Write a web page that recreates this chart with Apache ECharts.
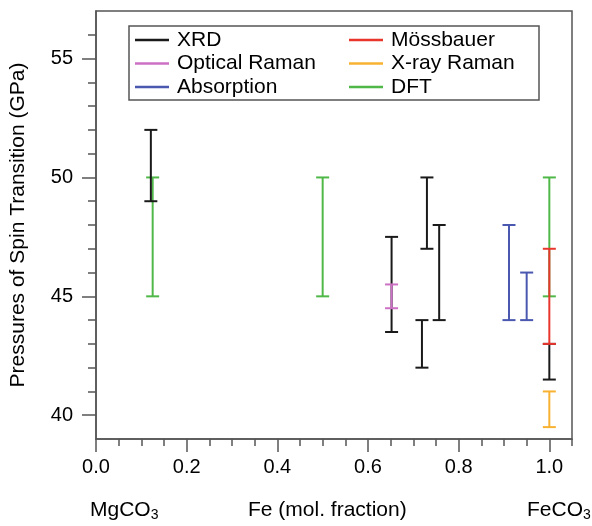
<!DOCTYPE html>
<html>
<head>
<meta charset="utf-8">
<style>
  html, body { margin: 0; padding: 0; background: #fff; }
  #chart { width: 592px; height: 526px; }
</style>
<script src="https://cdn.jsdelivr.net/npm/echarts@6/dist/echarts.min.js"></script>
</head>
<body>
<div id="chart"></div>
<script>
// each point: [Fe fraction, low pressure, high pressure]
const xrd = [[0.121, 49, 52], [0.652, 43.5, 47.5], [0.719, 42, 44], [0.730, 47, 50], [0.757, 44, 48], [1.0, 41.5, 43]];
const opticalRaman = [[0.652, 44.5, 45.5]];
const absorption = [[0.911, 44, 48], [0.950, 44, 46]];
const mossbauer = [[1.0, 43, 47]];
const xrayRaman = [[1.0, 39.5, 41]];
const dft = [[0.125, 45, 50], [0.5, 45, 50], [1.0, 45, 50]];

const xMajorTicks = [0, 0.2, 0.4, 0.6, 0.8, 1.0];
const xMinorTicks = [0.05, 0.1, 0.15, 0.25, 0.3, 0.35, 0.45, 0.5, 0.55, 0.65, 0.7, 0.75, 0.85, 0.9, 0.95, 1.05];
const yMajorTicks = [40, 45, 50, 55];
const yMinorTicks = [41, 42, 43, 44, 46, 47, 48, 49, 51, 52, 53, 54, 56];

const FONT = 'Liberation Sans, Arial, Helvetica, sans-serif';

const chart = echarts.init(document.getElementById('chart'));

function errorBar(params, api) {
  const x = api.value(0);
  const lo = api.coord([x, api.value(1)]);
  const hi = api.coord([x, api.value(2)]);
  const half = 6.5;
  const style = { stroke: api.visual('color'), lineWidth: 2 };
  return {
    type: 'group',
    children: [
      { type: 'line', shape: { x1: lo[0], y1: lo[1], x2: hi[0], y2: hi[1] }, style },
      { type: 'line', shape: { x1: lo[0] - half, y1: lo[1], x2: lo[0] + half, y2: lo[1] }, style },
      { type: 'line', shape: { x1: hi[0] - half, y1: hi[1], x2: hi[0] + half, y2: hi[1] }, style }
    ]
  };
}

function series(name, data, color) {
  return {
    name: name,
    type: 'custom',
    renderItem: errorBar,
    data: data,
    itemStyle: { color: color },
    encode: { x: 0, y: [1, 2] },
    silent: true
  };
}

const axisGray = '#555';
const legendCommon = {
  orient: 'vertical',
  icon: 'rect',
  itemWidth: 34,
  itemHeight: 2.5,
  itemGap: 2.5,
  padding: 0,
  selectedMode: false,
  textStyle: { fontFamily: FONT, fontSize: 21, color: '#000', lineHeight: 21, padding: [0, 0, 0, 3] }
};

chart.setOption({
  animation: false,
  grid: {
    left: 95, right: 20, top: 11, bottom: 87,
    show: true, borderColor: axisGray, borderWidth: 1.5, backgroundColor: '#fff'
  },
  legend: [
    Object.assign({ left: 135, top: 29.5, data: ['XRD', 'Optical Raman', 'Absorption'] }, legendCommon),
    Object.assign({ left: 349, top: 29.5, data: ['Mössbauer', 'X-ray Raman', 'DFT'] }, legendCommon)
  ],
  graphic: [
    {
      type: 'rect', z: 1,
      shape: { x: 129, y: 26, width: 410, height: 74 },
      style: { fill: 'transparent', stroke: axisGray, lineWidth: 1.5 }
    },
    {
      type: 'text', left: 90, top: 500,
      style: {
        text: '{n|MgCO}{s|3}',
        rich: {
          n: { fontFamily: FONT, fontSize: 21, fill: '#000' },
          s: { fontFamily: FONT, fontSize: 14, fill: '#000', padding: [10, 0, 0, 0] }
        }
      }
    },
    {
      type: 'text', left: 248, top: 500,
      style: { text: 'Fe (mol. fraction)', fontFamily: FONT, fontSize: 21, fill: '#000' }
    },
    {
      type: 'text', left: 527, top: 500,
      style: {
        text: '{n|FeCO}{s|3}',
        rich: {
          n: { fontFamily: FONT, fontSize: 21, fill: '#000' },
          s: { fontFamily: FONT, fontSize: 14, fill: '#000', padding: [10, 0, 0, 0] }
        }
      }
    }
  ],
  xAxis: [
    {
      type: 'value', min: 0, max: 1.05, position: 'bottom',
      axisLine: { show: true, lineStyle: { color: axisGray, width: 1.5 } },
      axisTick: { show: true, length: 13, customValues: xMajorTicks, lineStyle: { color: axisGray, width: 1.5 } },
      axisLabel: {
        customValues: xMajorTicks, margin: 18, fontFamily: FONT, fontSize: 20, color: '#000',
        formatter: v => v.toFixed(1)
      },
      splitLine: { show: false }
    },
    {
      type: 'value', min: 0, max: 1.05, position: 'bottom',
      axisLine: { show: false },
      axisTick: { show: true, length: 7, customValues: xMinorTicks, lineStyle: { color: axisGray, width: 1.5 } },
      axisLabel: { show: false },
      splitLine: { show: false }
    }
  ],
  yAxis: [
    {
      type: 'value', min: 39, max: 57, position: 'left',
      name: 'Pressures of Spin Transition (GPa)', nameLocation: 'middle', nameGap: 67,
      nameTextStyle: { fontFamily: FONT, fontSize: 21, color: '#000' },
      axisLine: { show: true, lineStyle: { color: axisGray, width: 1.5 } },
      axisTick: { show: true, length: 14, customValues: yMajorTicks, lineStyle: { color: axisGray, width: 1.5 } },
      axisLabel: { customValues: yMajorTicks, margin: 23, fontFamily: FONT, fontSize: 20, color: '#000' },
      splitLine: { show: false }
    },
    {
      type: 'value', min: 39, max: 57, position: 'left',
      axisLine: { show: false },
      axisTick: { show: true, length: 8, customValues: yMinorTicks, lineStyle: { color: axisGray, width: 1.5 } },
      axisLabel: { show: false },
      splitLine: { show: false }
    }
  ],
  series: [
    series('DFT', dft, '#4fb848'),
    series('XRD', xrd, '#1a1a1a'),
    series('Optical Raman', opticalRaman, '#cc70c4'),
    series('Absorption', absorption, '#4a58b0'),
    series('Mössbauer', mossbauer, '#e8362c'),
    series('X-ray Raman', xrayRaman, '#f8b232')
  ]
});
</script>
</body>
</html>
